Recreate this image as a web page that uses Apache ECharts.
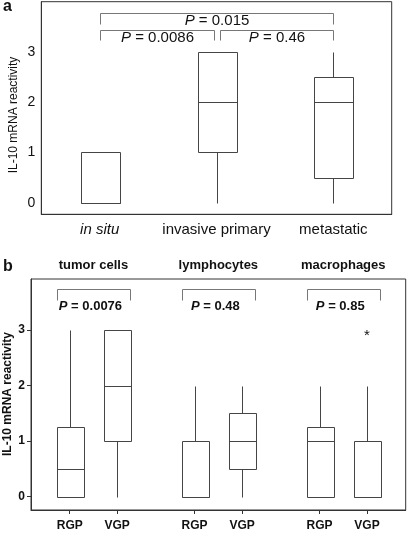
<!DOCTYPE html>
<html><head><meta charset="utf-8">
<script src="https://cdn.jsdelivr.net/npm/echarts@6/dist/echarts.min.js"></script>
<style>html,body{margin:0;padding:0;background:#fff}#c{width:409px;height:533px}</style>
</head><body><div id="c"></div>
<script>
// ---------- Panel a data ----------
const catsA = ['in situ', 'invasive primary', 'metastatic'];
const minA = [0, 0, 0];
const q1A = [0, 1, 0.5];
const medA = [0, 2, 2];
const q3A = [1, 3, 2.5];
const maxA = [1, 3, 3];
const pairsA = [[0, 2], [0, 1], [1, 2]];
const pTextA = ['0.015', '0.0086', '0.46'];
const yTicksA = [0, 1, 2, 3];

// ---------- Panel b data ----------
const cellTypesB = ['tumor cells', 'lymphocytes', 'macrophages'];
const phasesB = ['RGP', 'VGP'];
const minB = [0, 0, 0, 0, 0, 0];
const q1B = [0, 1, 0, 0.5, 0, 0];
const medB = [0.5, 2, 0, 1, 1, 0];
const q3B = [1.25, 3, 1, 1.5, 1.25, 1];
const maxB = [3, 3, 2, 2, 2, 2];
const outliersB = [[5, 3]];   // [box index, value]
const pTextB = ['0.0076', '0.48', '0.85'];
const yTicksB = [0, 1, 2, 3];

// ---------- layout / style ----------
const FONT = '"Liberation Sans", Arial, sans-serif';
const BOX_COLOR = '#454545';
const BR_COLOR = '#777';
const FRAME = '#333';
const TXT = '#111';
const X_OFF_B = 0.19;
const HALF_A = 0.167;   // fraction of band
const HALF_B = 0.106;   // value units
const LEVELS_A = [{top: 3.775, leg: 3.564, text: 3.62}, {top: 3.43, leg: 3.23, text: 3.29}, {top: 3.43, leg: 3.23, text: 3.29}];
const LEVEL_B = {top: 3.74, leg: 3.533, text: 3.425, half: 0.292, textShift: -3};
const GAP_A = 3;

const posB = [];
for (let i = 0; i < minB.length; i++) {
  posB.push(Math.floor(i / 2) + 1 + (i % 2 === 0 ? -X_OFF_B : X_OFF_B));
}

function boxRender(halfFrac) {
  return function (params, api) {
    const x = api.value(0);
    const vMin = api.value(1), vQ1 = api.value(2), vMed = api.value(3), vQ3 = api.value(4), vMax = api.value(5);
    const pMin = api.coord([x, vMin]), pQ1 = api.coord([x, vQ1]), pMed = api.coord([x, vMed]);
    const pQ3 = api.coord([x, vQ3]), pMax = api.coord([x, vMax]);
    const hw = api.size([1, 0])[0] * halfFrac;
    const cx = Math.round(pQ1[0]) + 0.5;
    const r = v => Math.round(v) + 0.5;
    const st = {stroke: BOX_COLOR, lineWidth: 1, fill: null};
    const ch = [];
    if (vMax > vQ3) ch.push({type: 'line', shape: {x1: cx, y1: r(pMax[1]), x2: cx, y2: r(pQ3[1])}, style: st});
    if (vMin < vQ1) ch.push({type: 'line', shape: {x1: cx, y1: r(pQ1[1]), x2: cx, y2: r(pMin[1])}, style: st});
    const x0 = r(cx - hw), x1 = r(cx + hw);
    ch.push({type: 'rect', shape: {x: x0, y: r(pQ3[1]), width: x1 - x0, height: r(pQ1[1]) - r(pQ3[1])},
      style: {stroke: BOX_COLOR, lineWidth: 1, fill: '#fff'}});
    ch.push({type: 'line', shape: {x1: x0, y1: r(pMed[1]), x2: x1, y2: r(pMed[1])}, style: st});
    return {type: 'group', children: ch};
  };
}

function pRich(val, bold, size) {
  return {
    text: '{i|P}{n| = ' + val + '}',
    rich: {
      i: {fontStyle: 'italic', fontWeight: bold ? 'bold' : 'normal', fontSize: size, fontFamily: FONT, fill: TXT},
      n: {fontWeight: bold ? 'bold' : 'normal', fontSize: size, fontFamily: FONT, fill: TXT}
    },
    fontSize: size, fontFamily: FONT, fill: TXT, align: 'center', verticalAlign: 'middle'
  };
}

const option = {
  animation: false,
  backgroundColor: '#fff',
  grid: [
    {left: 41.3, right: 17.3, top: 1.7, bottom: 318.7, show: true, borderColor: FRAME, borderWidth: 1, outerBoundsMode: 'none'},
    {left: 31, right: 3.3, top: 279, bottom: 23, show: true, borderColor: FRAME, borderWidth: 1, outerBoundsMode: 'none'}
  ],
  xAxis: [
    {gridIndex: 0, type: 'category', data: catsA, boundaryGap: true,
      axisLine: {show: true, onZero: false, lineStyle: {color: FRAME}},
      axisTick: {alignWithLabel: true, length: 4, lineStyle: {color: FRAME}},
      axisLabel: {interval: 0, margin: 8, fontSize: 15, color: TXT, fontFamily: FONT,
        formatter: (v, i) => i === 0 ? '{i|' + v + '}' : v,
        rich: {i: {fontStyle: 'italic', fontSize: 15, fontFamily: FONT, color: TXT}}},
      splitLine: {show: false}},
    {gridIndex: 1, type: 'value', min: 0.5, max: 3.5,
      axisLine: {show: true, onZero: false, lineStyle: {color: FRAME}},
      axisTick: {customValues: posB, length: 4, lineStyle: {color: FRAME}},
      axisLabel: {customValues: posB, margin: 10, fontSize: 12, fontWeight: 'bold', color: TXT, fontFamily: FONT,
        formatter: v => {
          let best = 0;
          posB.forEach((p, i) => { if (Math.abs(p - v) < Math.abs(posB[best] - v)) best = i; });
          return phasesB[best % 2];
        }},
      splitLine: {show: false}},
    {gridIndex: 1, type: 'value', min: 0.5, max: 3.5, position: 'top',
      axisLine: {show: false, onZero: false}, axisTick: {show: false},
      axisLabel: {customValues: [1, 2, 3], margin: 7, fontSize: 13, fontWeight: 'bold', color: TXT, fontFamily: FONT,
        formatter: v => cellTypesB[Math.round(v) - 1]},
      splitLine: {show: false}}
  ],
  yAxis: [
    {gridIndex: 0, type: 'value', min: -0.23, max: 4,
      axisLine: {show: true, onZero: false, lineStyle: {color: FRAME}},
      axisTick: {customValues: yTicksA, length: 4, lineStyle: {color: FRAME}},
      axisLabel: {customValues: yTicksA, margin: 6, fontSize: 14, color: TXT, fontFamily: FONT},
      splitLine: {show: false}},
    {gridIndex: 1, type: 'value', min: -0.24, max: 3.92,
      axisLine: {show: true, onZero: false, lineStyle: {color: FRAME}},
      axisTick: {customValues: yTicksB, length: 4, lineStyle: {color: FRAME}},
      axisLabel: {customValues: yTicksB, margin: 6, fontSize: 12, fontWeight: 'bold', color: TXT, fontFamily: FONT},
      splitLine: {show: false}}
  ],
  series: [
    {type: 'custom', xAxisIndex: 0, yAxisIndex: 0, renderItem: boxRender(HALF_A),
      encode: {x: 0, y: [1, 2, 3, 4, 5]},
      data: catsA.map((c, i) => [i, minA[i], q1A[i], medA[i], q3A[i], maxA[i]])},
    {type: 'custom', xAxisIndex: 0, yAxisIndex: 0, clip: false,
      encode: {x: [0, 1], y: 2},
      renderItem: function (params, api) {
        const a = api.value(0), b = api.value(1), k = api.value(2);
        const L = LEVELS_A[k];
        const y = Math.round(api.coord([a, L.top])[1]) + 0.5;
        const ly = Math.round(api.coord([a, L.leg])[1]) + 0.5;
        let x1 = api.coord([a, 0])[0], x2 = api.coord([b, 0])[0];
        if (k > 0 && a === 1) x1 += GAP_A;
        if (k > 0 && b === 1) x2 -= GAP_A;
        x1 = Math.round(x1) + 0.5; x2 = Math.round(x2) + 0.5;
        const ty = api.coord([a, L.text])[1];
        return {type: 'group', children: [
          {type: 'polyline', shape: {points: [[x1, ly], [x1, y], [x2, y], [x2, ly]]}, style: {stroke: BR_COLOR, lineWidth: 1, fill: null}},
          {type: 'text', x: (x1 + x2) / 2, y: ty, style: pRich(pTextA[params.dataIndex], false, 15)}
        ]};
      },
      data: pairsA.map((p, k) => [p[0], p[1], k])},
    {type: 'custom', xAxisIndex: 1, yAxisIndex: 1, renderItem: boxRender(HALF_B),
      encode: {x: 0, y: [1, 2, 3, 4, 5]},
      data: posB.map((p, i) => [p, minB[i], q1B[i], medB[i], q3B[i], maxB[i]])},
    {type: 'custom', xAxisIndex: 1, yAxisIndex: 1, clip: false,
      encode: {x: 0, y: 1},
      renderItem: function (params, api) {
        const g = api.value(0);
        const unit = api.size([1, 0])[0];
        const y = Math.round(api.coord([g, LEVEL_B.top])[1]) + 0.5;
        const ly = Math.round(api.coord([g, LEVEL_B.leg])[1]) + 0.5;
        const cx = api.coord([g, 0])[0];
        const x1 = Math.round(cx - LEVEL_B.half * unit) + 0.5, x2 = Math.round(cx + LEVEL_B.half * unit) + 0.5;
        const ty = api.coord([g, LEVEL_B.text])[1];
        return {type: 'group', children: [
          {type: 'polyline', shape: {points: [[x1, ly], [x1, y], [x2, y], [x2, ly]]}, style: {stroke: BR_COLOR, lineWidth: 1, fill: null}},
          {type: 'text', x: cx + LEVEL_B.textShift, y: ty, style: pRich(pTextB[params.dataIndex], true, 13)}
        ]};
      },
      data: cellTypesB.map((c, i) => [i + 1, 0])},
    {type: 'custom', xAxisIndex: 1, yAxisIndex: 1, clip: false,
      encode: {x: 0, y: 1},
      renderItem: function (params, api) {
        const p = api.coord([api.value(0), api.value(1)]);
        return {type: 'text', x: p[0], y: p[1] + 6,
          style: {text: '*', fontSize: 15, fontFamily: FONT, fill: TXT, align: 'center', verticalAlign: 'middle'}};
      },
      data: outliersB.map(o => [posB[o[0]], o[1]])}
  ],
  graphic: [
    {type: 'text', x: 3, y: 7, style: {text: 'a', fontSize: 16, fontWeight: 'bold', fontFamily: FONT, fill: TXT, verticalAlign: 'middle'}},
    {type: 'text', x: 3, y: 266.5, style: {text: 'b', fontSize: 16, fontWeight: 'bold', fontFamily: FONT, fill: TXT, verticalAlign: 'middle'}},
    {type: 'text', x: 13.3, y: 115, rotation: Math.PI / 2,
      style: {text: 'IL-10 mRNA reactivity', fontSize: 12, fontFamily: FONT, fill: TXT, align: 'center', verticalAlign: 'middle'}},
    {type: 'text', x: 7.5, y: 394, rotation: Math.PI / 2,
      style: {text: 'IL-10 mRNA reactivity', fontSize: 12, fontWeight: 'bold', fontFamily: FONT, fill: TXT, align: 'center', verticalAlign: 'middle'}}
  ]
};

const chart = echarts.init(document.getElementById('c'), null, {renderer: 'canvas'});
chart.setOption(option);
</script>
</body></html>
